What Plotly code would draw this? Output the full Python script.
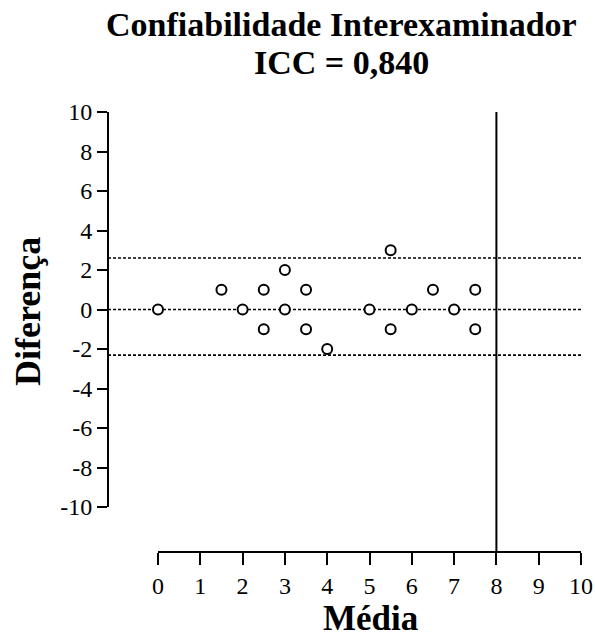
import plotly.graph_objects as go

media = [0, 1.5, 2, 2.5, 2.5, 3, 3, 3.5, 3.5, 4, 5, 5.5, 5.5, 6, 6.5, 7, 7.5, 7.5]
diferenca = [0, 1, 0, 1, -1, 2, 0, 1, -1, -2, 0, 3, -1, 0, 1, 0, 1, -1]
linha_media = 0
limite_superior = 2.61
limite_inferior = -2.31
linha_vertical = 8
x_ticks = list(range(0, 11))
y_ticks = list(range(-10, 11, 2))

FONT = "Liberation Serif"
W, H = 595, 641
L, R, T, B = 108, 14, 112, 89
PW, PH = W - L - R, H - T - B

fig = go.Figure()
fig.add_trace(go.Scatter(
    x=media, y=diferenca, xaxis="x2", yaxis="y", mode="markers",
    marker=dict(symbol="circle", size=10, color="white",
                line=dict(color="black", width=2)),
    cliponaxis=False, showlegend=False, hoverinfo="x+y"))

for yv in [limite_superior, linha_media, limite_inferior]:
    fig.add_shape(type="line", xref="paper", yref="y", x0=0, x1=1, y0=yv, y1=yv,
                  line=dict(color="black", width=1.6, dash="3px,2px"), layer="below")

fig.add_shape(type="line", xref="x2", yref="paper", x0=linha_vertical, x1=linha_vertical,
              y0=0, y1=1, line=dict(color="black", width=2), layer="below")

axis_common = dict(showline=True, linewidth=2, linecolor="black",
                   tickwidth=2, tickcolor="black", showgrid=False, zeroline=False,
                   automargin=False, anchor="free", position=0,
                   tickfont=dict(family=FONT, size=24, color="black"))

fig.update_layout(
    width=W, height=H,
    margin=dict(l=L, r=R, t=T, b=B, autoexpand=False),
    paper_bgcolor="white", plot_bgcolor="white",
    font=dict(family=FONT, color="black", size=20),
    xaxis=dict(visible=False, domain=[0, 1], automargin=False),
    xaxis2=dict(domain=[50 / PW, 1], range=[0, 10], tickvals=x_ticks,
                ticktext=[str(v) for v in x_ticks], ticks="outside", ticklen=12,
                **axis_common),
    yaxis=dict(domain=[45 / PH, 1], range=[-10, 10], tickvals=y_ticks,
               ticktext=[str(v) for v in y_ticks], ticks="outside", ticklen=10,
               **axis_common),
    annotations=[
        dict(text="<b>Confiabilidade Interexaminador</b>", xref="paper", yref="paper",
             x=(341 - L) / PW, y=(H - B - 25) / PH, xanchor="center", yanchor="middle",
             showarrow=False, font=dict(family=FONT, size=34, color="black")),
        dict(text="<b>ICC = 0,840</b>", xref="paper", yref="paper",
             x=(341 - L) / PW, y=(H - B - 62) / PH, xanchor="center", yanchor="middle",
             showarrow=False, font=dict(family=FONT, size=34, color="black")),
        dict(text="<b>Diferença</b>", textangle=-90, xref="paper", yref="paper",
             x=(28 - L) / PW, y=(H - B - 312) / PH, xanchor="center", yanchor="middle",
             showarrow=False, font=dict(family=FONT, size=36, color="black")),
        dict(text="<b>Média</b>", xref="paper", yref="paper",
             x=(370 - L) / PW, y=(H - B - 618) / PH, xanchor="center", yanchor="middle",
             showarrow=False, font=dict(family=FONT, size=35, color="black")),
    ],
)

fig.write_html("out.html")
